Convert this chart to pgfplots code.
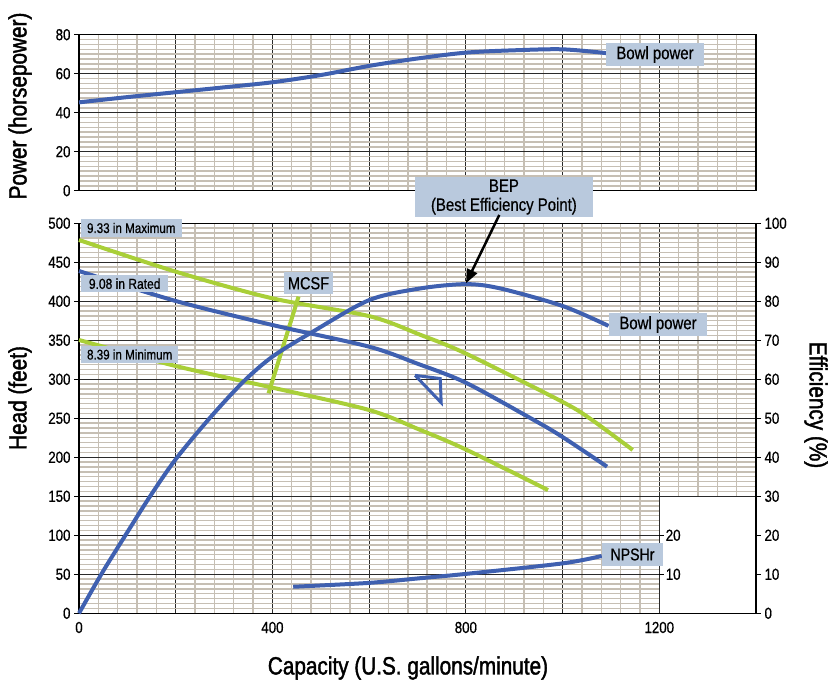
\documentclass[border=0pt]{standalone}
\usepackage{pgfplots}
\pgfplotsset{compat=1.18}
\usepackage{fontspec}
\setmainfont[FakeStretch=0.83,FakeBold=0.6]{Liberation Sans}
\newfontfamily\titlefont[FakeStretch=0.83,FakeBold=1.6]{Liberation Sans}
\usetikzlibrary{arrows.meta}

\definecolor{pblue}{HTML}{3F60B0}
\definecolor{pgreen}{HTML}{A9CF38}
\definecolor{boxbg}{HTML}{B9C9DD}
\definecolor{minorg}{HTML}{C6BFB4}
\definecolor{majorg}{HTML}{2A2A2A}

\pgfplotsset{
  chart/.style={
    scale only axis, width=677pt,
    xmin=0, xmax=1400,
    axis line style={line width=1.3pt, black},
    grid=both,
    major grid style={line width=1.2pt, majorg},
    minor grid style={line width=1.4pt, minorg},
    tick align=outside,
    major tick length=5pt, minor tick length=0pt,
    tick style={line width=1pt, black},
    major x tick style=transparent,
    tick label style={font=\fontsize{16}{16}\selectfont},
    /pgf/number format/assume math mode=true,
    xtick={0,200,...,1400}, minor x tick num=4,
    clip=false,
  },
  curve/.style={line width=4pt, smooth},
}

\begin{document}
\begin{tikzpicture}
\path[use as bounding box] (-79pt,-68.7pt) rectangle (749pt,613.3pt);

% power panel
\begin{axis}[chart, at={(0pt,422.6pt)}, anchor=south west, height=156pt,
  xtick pos=bottom, ytick pos=left,
  ymin=0, ymax=80, ytick={0,20,...,80}, minor y tick num=7,
  xticklabels={}]
  \addplot[curve, pblue] coordinates {
    (0,45.3) (100,48) (200,50.5) (300,53) (400,55.6) (500,59.3)
    (600,64) (700,67.8) (800,70.8) (900,72) (1000,72.5) (1092,70.5)};
\end{axis}

% head panel
\begin{axis}[chart, at={(0pt,0pt)}, anchor=south west, height=390pt,
  xtick pos=bottom, ytick pos=left,
  ymin=0, ymax=500, ytick={0,50,...,500}, minor y tick num=7,
  xticklabels={0,,400,,800,,1200,}]
  \fill[white] (axis cs:1200,0) rectangle (axis cs:1400,150);
  \draw[majorg, line width=1.2pt] (axis cs:1200,0) -- (axis cs:1200,150) -- (axis cs:1400,150);
  \draw[black, line width=1.3pt] (axis cs:1200,0) -- (axis cs:1400,0) -- (axis cs:1400,150);
  \draw[black, line width=1pt] (axis cs:1200,100) -- ++(5pt,0)
    node[right, inner sep=1pt, font=\fontsize{16}{16}\selectfont] {20};
  \draw[black, line width=1pt] (axis cs:1200,50) -- ++(5pt,0)
    node[right, inner sep=1pt, font=\fontsize{16}{16}\selectfont] {10};
  % 9.33 in maximum
  \addplot[curve, pgreen] coordinates {
    (0,478.6) (200,438) (400,403.8) (600,381) (706,357) (800,333)
    (1000,271) (1061,247.8) (1145,209.4)};
  % 8.39 in minimum
  \addplot[curve, pgreen] coordinates {
    (0,350.4) (200,317) (400,289.3) (600,260.6) (706,235) (800,210) (970,158)};
  % MCSF
  \addplot[line width=4pt, pgreen] coordinates {(392,282) (454,406)};
  % 9.08 in rated
  \addplot[curve, pblue] coordinates {
    (0,438.8) (200,400.4) (400,369.6) (600,341.8) (700,320) (800,295.6)
    (940,248) (1000,226) (1092,188)};
  % rated point marker
  \addplot[line width=3pt, pblue, line join=miter] coordinates {
    (695,305) (747,301) (749,270) (695,305)};
\end{axis}

% efficiency / NPSHr scale
\begin{axis}[chart, at={(0pt,0pt)}, anchor=south west, height=390pt,
  grid=none, axis x line=none, axis y line*=right,
  ytick pos=right, yticklabel pos=right,
  ymin=0, ymax=100, ytick={0,10,...,100}]
  \addplot[curve, pblue] coordinates {
    (0,0) (47,10.2) (99,20.6) (147,30) (200,39.5) (270,50) (340,59.4)
    (400,65.8) (478,71.8) (600,80.3) (706,83.3) (800,84.4) (871,83.3)
    (1000,78.8) (1095,73.7)};
  % NPSHr
  \addplot[curve, pblue] coordinates {
    (443,6.8) (600,7.8) (706,9) (800,10.1) (1000,12.8) (1081,14.7)};
\end{axis}

% axis titles
\node[rotate=90, font=\titlefont\fontsize{25}{25}\selectfont] at (-59pt,507.3pt) {Power (horsepower)};
\node[rotate=90, font=\titlefont\fontsize{25}{25}\selectfont] at (-59pt,215.3pt) {Head (feet)};
\node[rotate=-90, font=\titlefont\fontsize{25}{25}\selectfont] at (737pt,208.3pt) {Efficiency (\%)};
\node[font=\titlefont\fontsize{25}{25}\selectfont] at (329pt,-54.7pt) {Capacity (U.S. gallons/minute)};

% callouts
\tikzset{lbl/.style={fill=boxbg, inner sep=0pt, align=center}}
\node[lbl, minimum width=98pt, minimum height=23pt, font=\fontsize{18}{18}\selectfont] at (576pt,558.8pt) {Bowl power};
\node[lbl, minimum width=97.4pt, minimum height=22.4pt, font=\fontsize{18}{18}\selectfont] at (579pt,288.8pt) {Bowl power};
\node[lbl, minimum width=177.7pt, minimum height=40.6pt, font=\fontsize{18}{19}\selectfont] at (424.9pt,416.3pt) {BEP\\(Best Efficiency Point)};
\node[lbl, minimum width=100.7pt, minimum height=17.4pt, font=\fontsize{14}{14}\selectfont] at (52.3pt,385.3pt) {9.33 in Maximum};
\node[lbl, minimum width=87.3pt, minimum height=17.3pt, font=\fontsize{14.5}{14.5}\selectfont] at (45.7pt,329.6pt) {9.08 in Rated};
\node[lbl, minimum width=97.3pt, minimum height=17.6pt, font=\fontsize{14}{14}\selectfont] at (50.7pt,258.8pt) {8.39 in Minimum};
\node[lbl, minimum width=48.4pt, minimum height=22pt, font=\fontsize{17.5}{17.5}\selectfont] at (229.5pt,330pt) {MCSF};
\node[lbl, minimum width=60.4pt, minimum height=22.4pt, font=\fontsize{17}{17}\selectfont] at (553.5pt,58.8pt) {NPSHr};
\draw[line width=2.5pt, -{Triangle[length=14pt,width=11pt]}] (420.3pt,398.3pt) -- (387pt,330pt);
\end{tikzpicture}
\end{document}
